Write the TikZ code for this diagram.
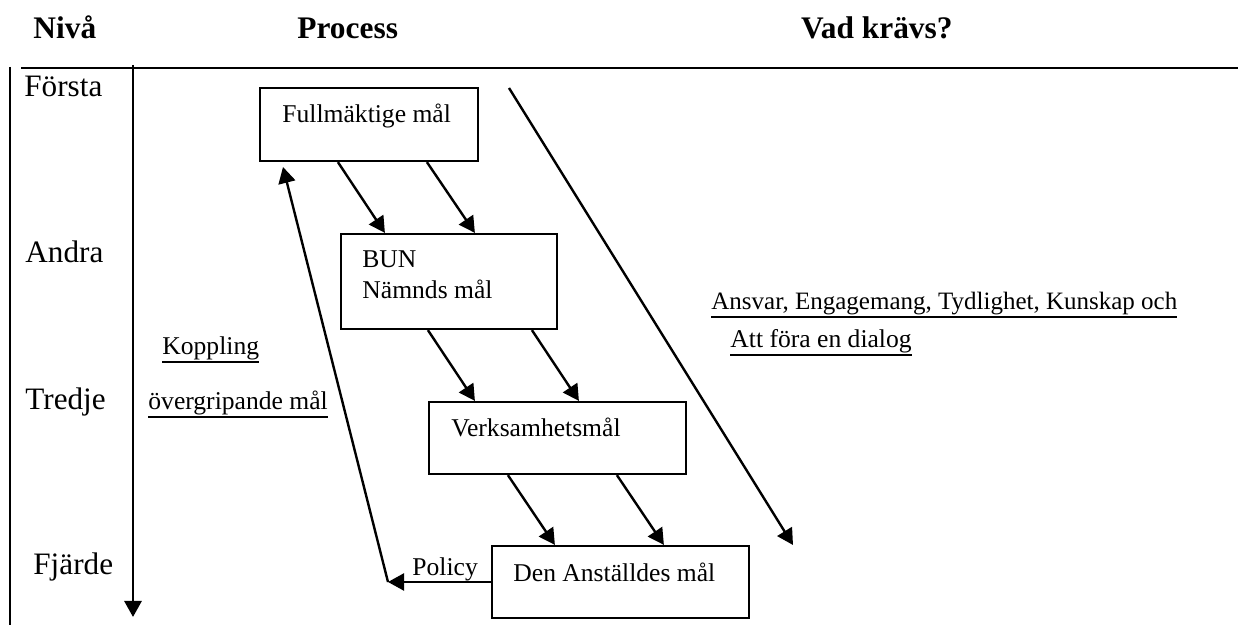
\documentclass[tikz,border=0pt]{standalone}
\usepackage{fontspec}
\setmainfont{Liberation Serif}
\usetikzlibrary{arrows.meta, calc}
\newsavebox{\undlbox}
\newcommand{\undl}[1]{\sbox{\undlbox}{#1}\usebox{\undlbox}\llap{\rule[-4pt]{\wd\undlbox}{0.9pt}}}

\begin{document}
\begin{tikzpicture}[
    x=0.5pt, y=-0.5pt,
    goal/.style={draw, line width=1.1pt, inner sep=0pt},
    goaltext/.style={anchor=base west, inner sep=0pt, font=\fontsize{12.8}{15}\selectfont},
    level/.style={anchor=base west, inner sep=0pt, font=\fontsize{15.6}{18}\selectfont},
    header/.style={inner sep=0pt, font=\fontsize{15.7}{18}\selectfont\bfseries},
    flow/.style={line width=1.2pt, -{Triangle[length=8pt, width=8.5pt]}},
]
    \useasboundingbox (0,0) rectangle (1238,625);

    % Headers
    \node[header, anchor=base west] (hniva) at (33,39) {Nivå};
    \node[header, anchor=base west] (hprocess) at (297,39) {Process};
    \node[header, anchor=base east] (hkravs) at (953,39) {Vad krävs?};

    % Frame lines
    \coordinate (topleft) at (21,68);
    \coordinate (topright) at (1238,68);
    \coordinate (sidetop) at (10,67);
    \coordinate (sidebot) at (10,625);
    \draw[line width=1.4pt] (topleft) -- (topright);
    \draw[line width=1.1pt] (sidetop) -- (sidebot);

    % Level axis
    \coordinate (nivtop) at (133,65);
    \coordinate (nivbot) at (133,617);
    \draw[flow, line width=1.4pt] (nivtop) -- (nivbot);
    \node[level] (forsta) at (24,97) {Första};
    \node[level] (andra) at (25,263) {Andra};
    \node[level] (tredje) at (25,410) {Tredje};
    \node[level] (fjarde) at (33,575) {Fjärde};

    % Goal boxes
    \node[goal, minimum width=109pt, minimum height=36.5pt] (fullm) at (369,124.5) {};
    \node[goal, minimum width=108pt, minimum height=47.5pt] (bun) at (449,281.5) {};
    \node[goal, minimum width=128.5pt, minimum height=36pt] (verks) at (557.5,438) {};
    \node[goal, minimum width=128.5pt, minimum height=36pt] (anst) at (620.5,582) {};

    \node[goaltext] (fullmtxt) at (282,123) {Fullmäktige mål};
    \node[goaltext] (buntxt) at (362,268) {BUN};
    \node[goaltext] (namndtxt) at (362,299) {Nämnds mål};
    \node[goaltext] (verkstxt) at (451,437) {Verksamhetsmål};
    \node[goaltext] (ansttxt) at (513,582) {Den Anställdes mål};

    % Downward links
    \draw[flow] ($(fullm.south west)+(79,0)$) -- ($(bun.north west)+(45,0)$);
    \draw[flow] ($(fullm.south west)+(168,0)$) -- ($(bun.north west)+(135,0)$);
    \draw[flow] ($(bun.south west)+(88,0)$) -- ($(verks.north west)+(47,0)$);
    \draw[flow] ($(bun.south west)+(192,0)$) -- ($(verks.north west)+(151,0)$);
    \draw[flow] ($(verks.south west)+(80,0)$) -- ($(anst.north west)+(64,0)$);
    \draw[flow] ($(verks.south west)+(189,0)$) -- ($(anst.north west)+(173,0)$);

    % Policy feedback
    \coordinate (polc) at (388,582);
    \coordinate (koppl) at (283,167);
    \draw[flow] (anst.west) -- (polc);
    \draw[flow] (polc) -- (koppl);
    \node[goaltext] (policytxt) at (412,576) {Policy};
    \node[goaltext] (kopptxt) at (162,355) {\undl{Koppling}};
    \node[goaltext] (overtxt) at (148,410) {\undl{övergripande mål}};

    % Requirements
    \coordinate (kravtop) at (509,88);
    \coordinate (kravbot) at (793,545);
    \draw[flow] (kravtop) -- (kravbot);
    \node[goaltext, font=\fontsize{12.5}{15}\selectfont] (ansvtxt) at (711,310) {\undl{Ansvar, Engagemang, Tydlighet, Kunskap och}};
    \node[goaltext] (dialtxt) at (730,348) {\undl{Att föra en dialog}};
\end{tikzpicture}
\end{document}
